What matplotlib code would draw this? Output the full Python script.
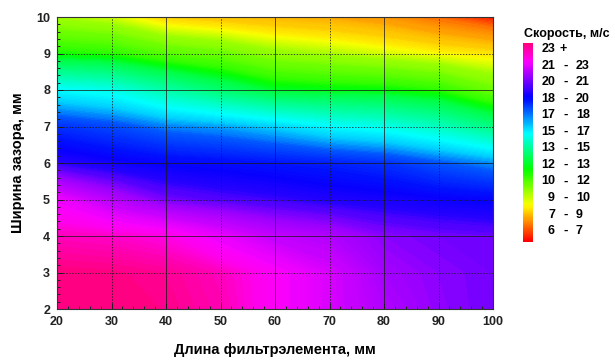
import numpy as np
import matplotlib.pyplot as plt
import matplotlib.colors as mcolors
from matplotlib.ticker import MultipleLocator

plt.rcParams['font.family'] = ['Liberation Sans', 'DejaVu Sans']
plt.rcParams['font.weight'] = 'bold'

# ─── Data ─────────────────────────────────────────────────────────────────────
LENGTH_MM = [20, 30, 40, 50, 60, 70, 80, 90, 100]     # x: длина фильтрэлемента
GAP_MM = [2, 3, 4, 5, 6, 7, 8, 9, 10]                 # y: ширина зазора

# speed, m/s (rows: gap 2..10, columns: length 20..100)
SPEED = [
    [24.0, 24.0, 23.9, 23.55, 22.8, 22.1, 21.4, 20.95, 20.7],
    [24.0, 23.95, 23.8, 23.45, 22.8, 22.1, 21.2, 20.9, 20.7],
    [23.45, 23.35, 23.1, 22.4, 21.7, 21.4, 20.9, 20.7, 20.6],
    [22.5, 21.5, 20.7, 20.4, 20.2, 19.95, 19.8, 19.6, 19.45],
    [20.1, 19.7, 19.45, 19.3, 19.1, 18.9, 18.6, 18.0, 17.45],
    [18.6, 18.2, 17.6, 17.3, 16.8, 16.1, 15.7, 15.0, 13.9],
    [16.1, 15.7, 14.6, 13.6, 12.7, 12.5, 12.4, 12.0, 10.9],
    [12.2, 12.0, 11.3, 10.9, 10.2, 9.9, 9.55, 9.2, 8.9],
    [9.9, 9.55, 8.6, 8.3, 8.1, 7.9, 7.55, 6.9, 6.2],
]

# legend class boundaries (equal height bands in the legend)
BOUNDS = [6, 7, 9, 10, 12, 13, 15, 17, 18, 20, 21, 23, 24]

# ─── Colour map: hue sweep red -> pink, piecewise by legend class ────────────
cmap = mcolors.ListedColormap(plt.cm.hsv(np.linspace(0, 335 / 360, 512)))
pos = np.linspace(0, 1, len(BOUNDS))
norm = mcolors.FuncNorm((lambda v: np.interp(v, BOUNDS, pos),
                         lambda t: np.interp(t, pos, BOUNDS)),
                        vmin=BOUNDS[0], vmax=BOUNDS[-1])

W, H = 615, 363
fig = plt.figure(figsize=(W / 100, H / 100), dpi=100)
ax = fig.add_axes([57 / W, 1 - 309 / H, (493 - 57) / W, (309 - 17) / H])

X, Y = np.meshgrid(LENGTH_MM, GAP_MM)
Z = np.array(SPEED)
ax.contourf(X, Y, Z, levels=np.linspace(BOUNDS[0], BOUNDS[-1] + 0.01, 181),
            cmap=cmap, norm=norm, zorder=1)

ax.set_xlim(20, 100)
ax.set_ylim(2, 10)
ax.set_xticks(LENGTH_MM)
ax.set_yticks(GAP_MM)
ax.xaxis.set_minor_locator(MultipleLocator(2))
ax.yaxis.set_minor_locator(MultipleLocator(0.2))
ax.tick_params(which='both', direction='in', colors='#222222',
               labelsize=9, width=0.7)
ax.tick_params(which='major', length=4, pad=5)
ax.tick_params(which='minor', length=2.5)
for lbl in ax.get_xticklabels() + ax.get_yticklabels():
    lbl.set_fontweight('bold')

# grid: solid on even, dotted on odd lines
for i, xv in enumerate(LENGTH_MM[1:-1]):
    ax.axvline(xv, color='#1a1a1a', lw=0.7, alpha=0.75,
               ls=(0, (1.5, 1.5)) if i % 2 == 0 else '-', zorder=2)
for i, yv in enumerate(GAP_MM[1:-1]):
    ax.axhline(yv, color='#1a1a1a', lw=0.7, alpha=0.75,
               ls=(0, (1.5, 1.5)) if i % 2 == 0 else '-', zorder=2)
for sp in ax.spines.values():
    sp.set_linewidth(0.8)
    sp.set_color('#333333')

ax.set_xlabel('Длина фильтрэлемента, мм', fontsize=10.5, fontweight='bold',
              labelpad=11)
ax.set_ylabel('Ширина зазора, мм', fontsize=10.5, fontweight='bold',
              labelpad=8)

# ─── Legend strip ─────────────────────────────────────────────────────────────
cax = fig.add_axes([523 / W, 1 - 242 / H, 10 / W, 199 / H])
cax.imshow(np.linspace(0, 1, 256).reshape(-1, 1), cmap=cmap, aspect='auto',
           origin='lower')
cax.set_axis_off()

fig.text(567 / W, 1 - 34 / H, 'Скорость, м/с', ha='center', va='center',
         fontsize=9, fontweight='bold')

n = len(BOUNDS) - 1
for k in range(n):
    i = n - 1 - k                       # top row shows the highest class
    yf = 1 - (49 + k * 16.55) / H
    lo, hi = BOUNDS[i], BOUNDS[i + 1]
    fig.text(555 / W, yf, f'{lo}', ha='right', va='center',
             fontsize=9, fontweight='bold')
    if i == n - 1:
        fig.text(560 / W, yf, '+', ha='left', va='center',
                 fontsize=9, fontweight='bold')
    else:
        fig.text(566 / W, yf, '-', ha='center', va='center',
                 fontsize=9.5, fontweight='bold')
        fig.text(576 / W, yf, f'{hi}', ha='left', va='center',
                 fontsize=9, fontweight='bold')

fig.savefig('out.png', dpi=100, facecolor='white')
